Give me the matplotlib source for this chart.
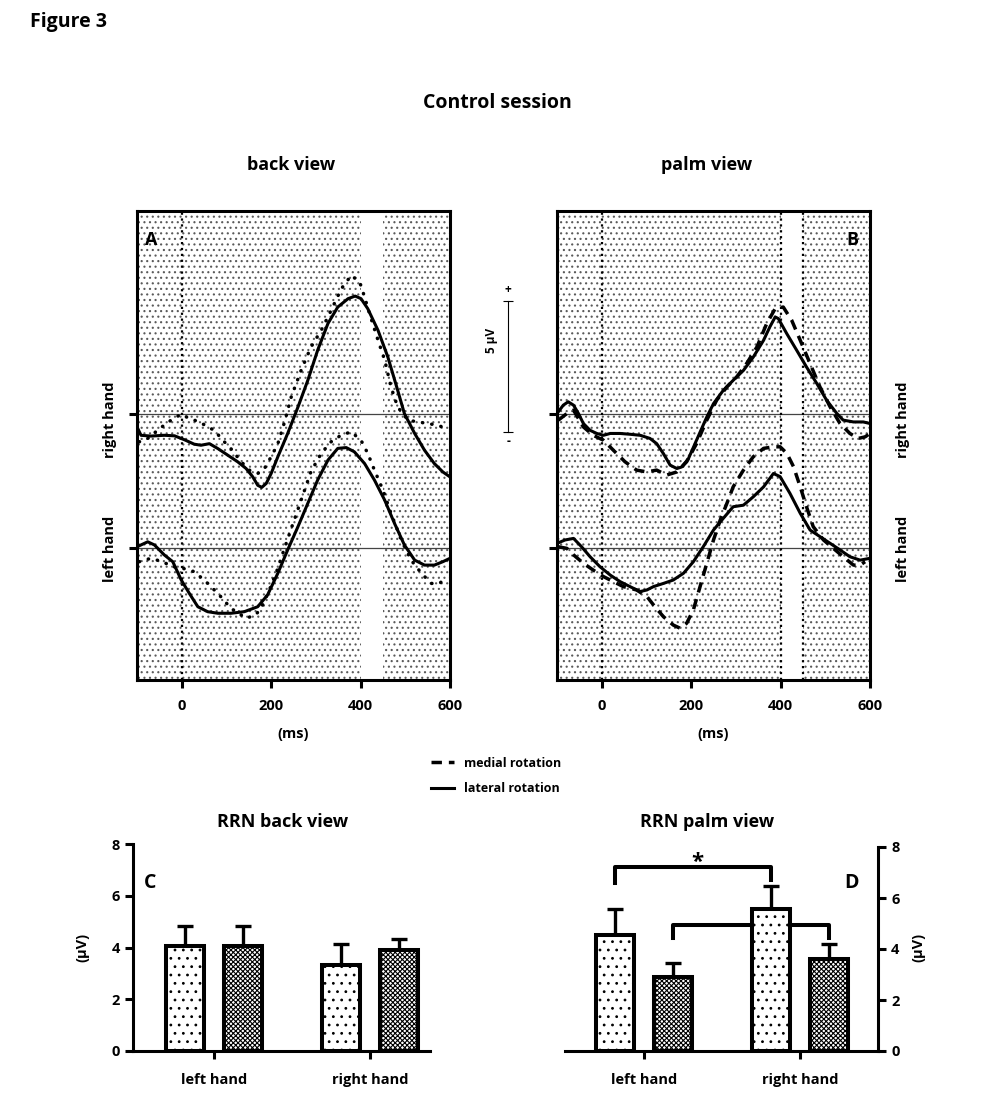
import numpy as np
import matplotlib
matplotlib.use('Agg')
import matplotlib.pyplot as plt

plt.rcParams['font.family'] = ['Open Sans', 'DejaVu Sans']
plt.rcParams['font.weight'] = 'bold'
plt.rcParams['hatch.linewidth'] = 0.8

# ERP traces: time (ms) and amplitude (uV, relative to each trace's own baseline)
# panel A - back view
a_right_lat_t = [-100, -91, -69, -39, -16, 6, 28, 43, 62, 81, 103, 125, 144, 159, 170, 179, 189, 200, 215, 237, 260, 282, 304, 327, 349, 372, 388, 401, 416, 439, 461, 483, 498, 521, 543, 565, 584, 600]
a_right_lat_v = [-0.51, -0.83, -0.86, -0.83, -0.85, -1.00, -1.17, -1.21, -1.15, -1.34, -1.59, -1.84, -2.10, -2.42, -2.74, -2.82, -2.67, -2.29, -1.65, -0.76, 0.25, 1.27, 2.42, 3.44, 4.07, 4.39, 4.49, 4.39, 4.01, 3.18, 2.16, 0.89, 0.00, -0.76, -1.40, -1.91, -2.23, -2.42]
a_right_med_t = [-95, -76, -54, -33, -13, 0, 17, 40, 58, 73, 92, 110, 133, 151, 170, 185, 200, 215, 230, 245, 267, 289, 312, 334, 357, 379, 398, 409, 420, 439, 454, 468, 483, 506, 528, 551, 573, 592]
a_right_med_v = [-1.08, -0.95, -0.64, -0.36, -0.13, -0.03, -0.19, -0.32, -0.51, -0.64, -1.02, -1.34, -1.84, -2.16, -2.29, -2.10, -1.65, -1.15, -0.32, 0.64, 1.65, 2.54, 3.18, 3.94, 4.77, 5.28, 5.03, 4.45, 3.82, 2.80, 2.04, 1.02, 0.25, -0.25, -0.32, -0.38, -0.45, -0.57]
a_left_lat_t = [-100, -76, -61, -39, -20, -1, 17, 36, 58, 81, 110, 140, 170, 192, 215, 237, 260, 282, 304, 327, 349, 368, 386, 409, 431, 454, 476, 498, 521, 543, 565, 584, 600]
a_left_lat_v = [0.06, 0.25, 0.13, -0.25, -0.51, -1.21, -1.72, -2.23, -2.42, -2.48, -2.48, -2.42, -2.23, -1.78, -0.95, -0.06, 0.83, 1.72, 2.61, 3.37, 3.82, 3.85, 3.69, 3.24, 2.61, 1.84, 0.95, 0.13, -0.45, -0.64, -0.64, -0.51, -0.38]
a_left_med_t = [-95, -69, -43, -20, 2, 28, 54, 84, 110, 144, 166, 181, 196, 211, 226, 245, 267, 289, 312, 334, 357, 379, 401, 416, 431, 450, 468, 491, 513, 536, 558, 577, 592]
a_left_med_v = [-0.51, -0.38, -0.51, -0.70, -0.76, -0.89, -1.27, -1.78, -2.29, -2.67, -2.54, -2.16, -1.59, -0.95, -0.19, 0.76, 1.84, 2.93, 3.63, 4.07, 4.33, 4.45, 4.13, 3.63, 2.99, 2.23, 1.34, 0.32, -0.45, -0.95, -1.34, -1.34, -1.08]

# panel B - palm view
b_right_lat_t = [-100, -86, -75, -63, -52, -41, -26, -11, 4, 19, 41, 63, 86, 108, 123, 138, 153, 168, 179, 194, 212, 235, 250, 272, 294, 317, 339, 362, 376, 388, 395, 414, 436, 458, 481, 503, 526, 540, 563, 585, 600]
b_right_lat_v = [0.00, 0.32, 0.45, 0.32, 0.00, -0.38, -0.64, -0.76, -0.83, -0.76, -0.76, -0.79, -0.83, -0.95, -1.15, -1.53, -1.97, -2.10, -2.04, -1.72, -1.02, -0.13, 0.38, 0.89, 1.27, 1.65, 2.16, 2.80, 3.31, 3.69, 3.63, 3.05, 2.42, 1.78, 1.15, 0.51, 0.00, -0.25, -0.32, -0.32, -0.38]
b_right_med_t = [-97, -78, -63, -41, -19, 4, 26, 52, 78, 101, 123, 145, 168, 190, 212, 235, 257, 280, 302, 324, 347, 369, 388, 406, 425, 444, 466, 488, 511, 533, 555, 574, 589, 600]
b_right_med_v = [-0.25, 0.00, 0.13, -0.51, -0.83, -1.02, -1.40, -1.84, -2.16, -2.23, -2.16, -2.35, -2.23, -1.84, -1.15, -0.25, 0.51, 1.02, 1.40, 1.91, 2.54, 3.44, 4.01, 4.07, 3.56, 2.80, 1.91, 1.02, 0.25, -0.38, -0.76, -0.95, -0.89, -0.76]
b_left_lat_t = [-100, -82, -63, -45, -26, -4, 19, 41, 63, 86, 101, 116, 138, 160, 183, 205, 227, 250, 272, 294, 317, 339, 362, 384, 399, 421, 444, 466, 488, 511, 533, 555, 578, 600]
b_left_lat_v = [0.19, 0.32, 0.38, 0.06, -0.32, -0.70, -1.02, -1.27, -1.46, -1.65, -1.59, -1.46, -1.34, -1.21, -0.95, -0.51, 0.06, 0.70, 1.15, 1.59, 1.65, 1.97, 2.35, 2.86, 2.74, 2.10, 1.34, 0.70, 0.45, 0.19, -0.06, -0.32, -0.45, -0.38]
b_left_med_t = [-97, -78, -63, -41, -19, 4, 26, 48, 78, 101, 119, 138, 160, 175, 190, 205, 220, 235, 250, 265, 280, 294, 317, 339, 362, 384, 399, 414, 429, 444, 458, 473, 496, 518, 540, 563, 578, 589]
b_left_med_v = [0.06, 0.00, -0.25, -0.57, -0.83, -1.08, -1.27, -1.46, -1.59, -1.84, -2.23, -2.61, -2.93, -3.05, -2.86, -2.35, -1.46, -0.57, 0.32, 1.08, 1.72, 2.35, 2.99, 3.50, 3.82, 3.88, 3.88, 3.63, 3.12, 2.35, 1.59, 0.83, 0.32, 0.00, -0.32, -0.64, -0.64, -0.51]

right_base = 0.0
left_base = -5.15      # vertical offset of the left-hand traces (uV)
time_ticks = [0, 200, 400, 600]

# RRN amplitude bars (uV) + SEM
hands = ['left hand', 'right hand']
c_medial = [4.07, 3.32]
c_medial_err = [0.76, 0.80]
c_lateral = [4.04, 3.91]
c_lateral_err = [0.81, 0.43]
d_medial = [4.55, 5.57]
d_medial_err = [1.02, 0.90]
d_lateral = [2.91, 3.60]
d_lateral_err = [0.55, 0.60]

W, H = 985, 1103
fig = plt.figure(figsize=(W / 100, H / 100), dpi=100)

def fx(px):
    return px / W

def fy(py):
    return 1 - py / H

LW = 2.2
dot_style = (0, (0.1, 2.6))
dash_style = (0, (3, 2))

ax_a = fig.add_axes([fx(137), fy(680), fx(313), 469 / H])
ax_b = fig.add_axes([fx(557), fy(680), fx(313), 469 / H])

for ax in (ax_a, ax_b):
    ax.set_xlim(-100, 600)
    ax.set_ylim(-10.18, 7.74)
    ax.axvspan(-100, 400, facecolor='white', edgecolor='#5a5a5a', hatch='...', linewidth=0, zorder=0)
    ax.axvspan(450, 600, facecolor='white', edgecolor='#5a5a5a', hatch='...', linewidth=0, zorder=0)
    ax.axhline(right_base, color='#444444', lw=0.9, zorder=1)
    ax.axhline(left_base, color='#444444', lw=0.9, zorder=1)
    ax.axvline(0, color='black', lw=1.6, ls=':', zorder=1)
    for s in ax.spines.values():
        s.set_linewidth(LW)
    ax.set_xticks(time_ticks)
    ax.set_xticklabels([str(t) for t in time_ticks], fontsize=10.5, fontweight='bold')
    ax.set_yticks([right_base, left_base])
    ax.set_yticklabels([])
    ax.tick_params(axis='both', direction='out', length=6, width=LW, pad=8)
    ax.set_xlabel('(ms)', fontsize=10.5, fontweight='bold', labelpad=10)

ax_b.axvline(400, color='black', lw=1.6, ls=':', zorder=1)
ax_b.axvline(450, color='black', lw=1.6, ls=':', zorder=1)

# panel A traces
ax_a.plot(a_right_med_t, np.array(a_right_med_v) + right_base, color='black', lw=2.5, ls=dot_style, dash_capstyle='round', zorder=3)
ax_a.plot(a_right_lat_t, np.array(a_right_lat_v) + right_base, color='black', lw=LW, zorder=3)
ax_a.plot(a_left_med_t, np.array(a_left_med_v) + left_base, color='black', lw=2.5, ls=dot_style, dash_capstyle='round', zorder=3)
ax_a.plot(a_left_lat_t, np.array(a_left_lat_v) + left_base, color='black', lw=LW, zorder=3)

# panel B traces
h_med, = ax_b.plot(b_right_med_t, np.array(b_right_med_v) + right_base, color='black', lw=2.5, ls=dash_style, zorder=3)
h_lat, = ax_b.plot(b_right_lat_t, np.array(b_right_lat_v) + right_base, color='black', lw=LW, zorder=3)
ax_b.plot(b_left_med_t, np.array(b_left_med_v) + left_base, color='black', lw=2.5, ls=dash_style, zorder=3)
ax_b.plot(b_left_lat_t, np.array(b_left_lat_v) + left_base, color='black', lw=LW, zorder=3)

ax_a.text(0.045, 0.938, 'A', transform=ax_a.transAxes, fontsize=13, fontweight='bold', ha='center', va='center')
ax_b.text(0.943, 0.938, 'B', transform=ax_b.transAxes, fontsize=13, fontweight='bold', ha='center', va='center')

# 5 uV scale bar, left of panel B
ax_b.plot([-209, -209], [-0.69, 4.31], color='black', lw=0.8, marker='_', ms=7, mew=0.8, clip_on=False)
ax_b.text(-209, 4.75, '+', fontsize=8.5, fontweight='bold', ha='center', va='center', clip_on=False)
ax_b.text(-209, -1.05, '-', fontsize=8.5, fontweight='bold', ha='center', va='center', clip_on=False)
ax_b.text(-247, 2.8, '5 µV', fontsize=8.5, fontweight='bold', rotation=90, ha='center', va='center', clip_on=False)

# hand labels
for xx in (110, 903):
    fig.text(fx(xx), fy(420), 'right hand', rotation=90, fontsize=10.5, fontweight='bold', ha='center', va='center')
    fig.text(fx(xx), fy(549), 'left hand', rotation=90, fontsize=10.5, fontweight='bold', ha='center', va='center')

fig.text(fx(30), fy(22), 'Figure 3', fontsize=14, fontweight='bold', ha='left', va='center')
fig.text(fx(497), fy(103), 'Control session', fontsize=14, fontweight='bold', ha='center', va='center')
fig.text(fx(291), fy(165), 'back view', fontsize=13, fontweight='bold', ha='center', va='center')
fig.text(fx(707), fy(165), 'palm view', fontsize=13, fontweight='bold', ha='center', va='center')

fig.legend([h_med, h_lat], ['medial rotation', 'lateral rotation'], loc='center left',
           bbox_to_anchor=(fx(420), fy(776)), frameon=False, handlelength=1.8,
           labelspacing=1.0, prop={'size': 9, 'weight': 'bold'})

# bar panels
off = 0.186
bw = 0.24
xpos = np.arange(len(hands))

ax_c = fig.add_axes([fx(133), fy(1051), fx(297), 207 / H])
ax_d = fig.add_axes([fx(565), fy(1051), fx(313), 204 / H])

for ax, med, med_e, lat, lat_e in ((ax_c, c_medial, c_medial_err, c_lateral, c_lateral_err),
                                    (ax_d, d_medial, d_medial_err, d_lateral, d_lateral_err)):
    ax.errorbar(xpos - off, med, yerr=[np.zeros(2), med_e], fmt='none', ecolor='black',
                elinewidth=2.4, capsize=5.5, capthick=2.4, zorder=2)
    ax.errorbar(xpos + off, lat, yerr=[np.zeros(2), lat_e], fmt='none', ecolor='black',
                elinewidth=2.4, capsize=5.5, capthick=2.4, zorder=2)
    ax.bar(xpos - off, med, bw, facecolor='white', edgecolor='black', hatch='..', linewidth=2.9, zorder=3)
    ax.bar(xpos + off, lat, bw, facecolor='white', edgecolor='black', hatch='xxxxxxx', linewidth=2.9, zorder=3)
    ax.set_ylim(0, 8)
    ax.set_yticks([0, 2, 4, 6, 8])
    ax.set_xticks(xpos)
    ax.set_xticklabels(hands, fontsize=10.5, fontweight='bold')
    ax.tick_params(axis='both', direction='out', length=6, width=LW, labelsize=10.5)
    ax.tick_params(axis='x', pad=10)
    ax.spines['top'].set_visible(False)
    for s in ax.spines.values():
        s.set_linewidth(LW)

ax_c.set_xlim(-0.519, 1.385)
ax_c.spines['right'].set_visible(False)
ax_d.set_xlim(-0.506, 1.5)
ax_d.spines['left'].set_visible(False)
ax_d.yaxis.tick_right()

# significance brackets in D
ax_d.plot([-off, -off, 1 - off, 1 - off], [6.6, 7.2, 7.2, 6.7], color='black', lw=2.9, clip_on=False)
ax_d.plot([off, off, 1 + off, 1 + off], [4.43, 4.94, 4.94, 4.43], color='black', lw=2.9, clip_on=False)
ax_d.text(0.34, 7.0, '*', fontsize=16, fontweight='bold', ha='center', va='bottom')

fig.text(fx(150), fy(883), 'C', fontsize=14, fontweight='bold', ha='center', va='center')
fig.text(fx(852), fy(883), 'D', fontsize=14, fontweight='bold', ha='center', va='center')
fig.text(fx(82), fy(947), '(µV)', rotation=90, fontsize=10.5, fontweight='bold', ha='center', va='center')
fig.text(fx(918), fy(947), '(µV)', rotation=90, fontsize=10.5, fontweight='bold', ha='center', va='center')
fig.text(fx(283), fy(822), 'RRN back view', fontsize=13, fontweight='bold', ha='center', va='center')
fig.text(fx(707), fy(822), 'RRN palm view', fontsize=13, fontweight='bold', ha='center', va='center')

fig.savefig('out.png', dpi=100)
